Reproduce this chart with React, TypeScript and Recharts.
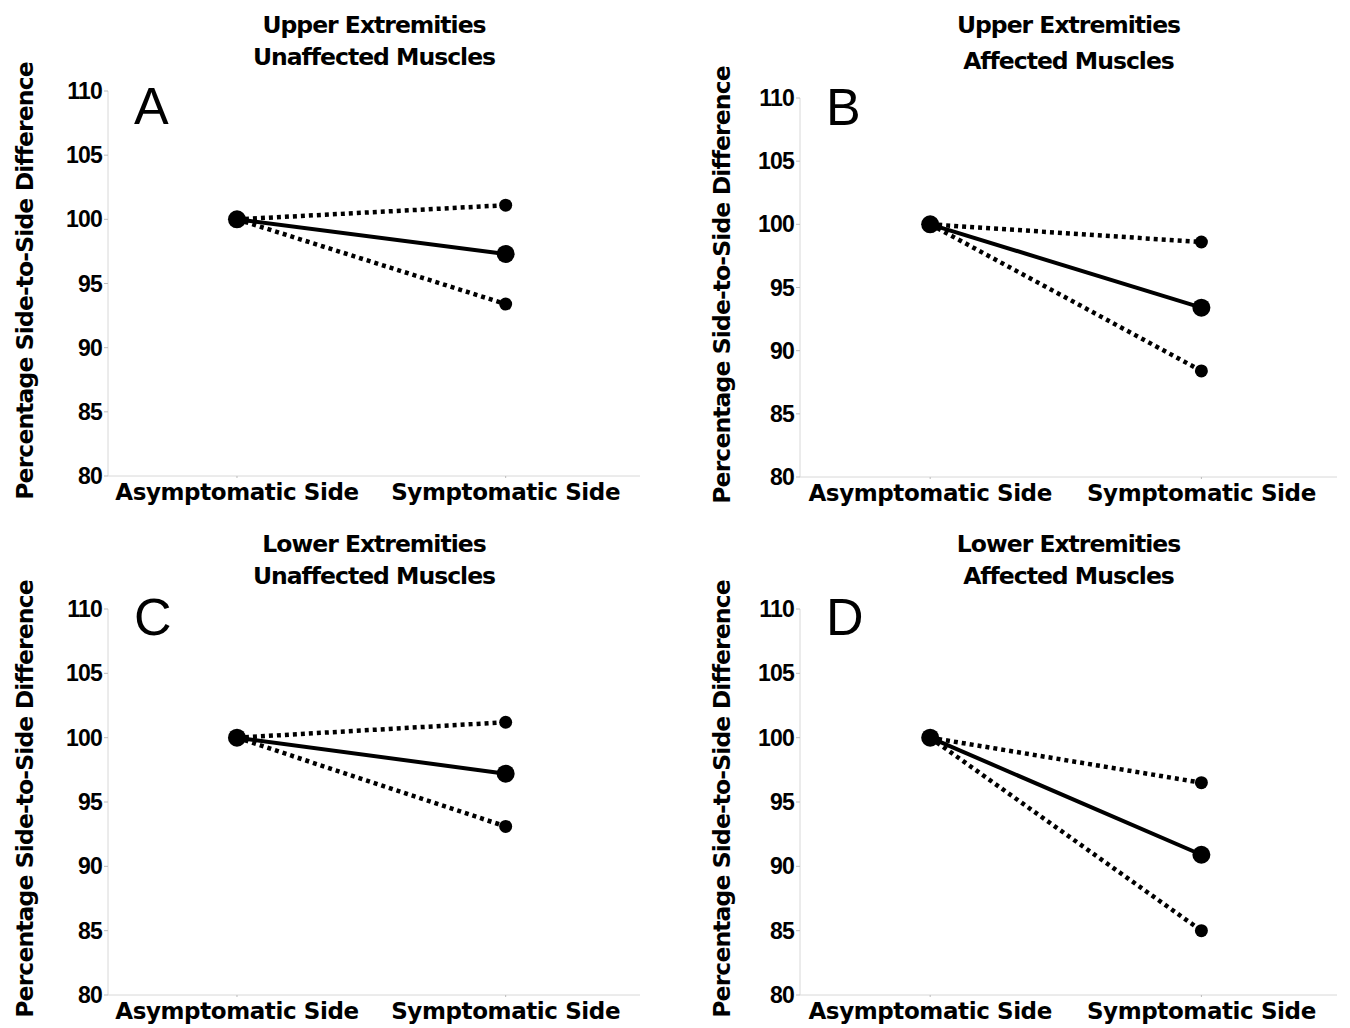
import React from "react";
import { LineChart, Line, XAxis, YAxis } from "recharts";

const sides = ["Asymptomatic Side", "Symptomatic Side"];
const sidePos = [1, 2];
const yTicks = [80, 85, 90, 95, 100, 105, 110];

const upperA = [100, 101.1];
const meanA = [100, 97.3];
const lowerA = [100, 93.4];

const upperB = [100, 98.6];
const meanB = [100, 93.4];
const lowerB = [100, 88.4];

const upperC = [100, 101.2];
const meanC = [100, 97.2];
const lowerC = [100, 93.1];

const upperD = [100, 96.5];
const meanD = [100, 90.9];
const lowerD = [100, 85.0];

const font = "'Liberation Sans', Arial, sans-serif";
const heavy = "'DejaVu Sans', 'Liberation Sans', sans-serif";

type PanelProps = {
  left: number;
  top: number;
  letter: string;
  letterY: number;
  title: string[];
  titleTop: number;
  titleGap: number;
  upper: number[];
  mean: number[];
  lower: number[];
  plotTop: number;
  plotBottom: number;
  plotRight: number;
  axisX: number;
};

const dotFn = (r: number) => (p: any) => (
  <circle key={`d-${p.index}-${r}`} cx={p.cx} cy={p.cy} r={r} fill="#000" />
);

function Panel(props: PanelProps) {
  const { left, top, letter, letterY, title, titleTop, titleGap, upper, mean, lower, plotTop, plotBottom, plotRight, axisX } = props;
  const W = 680;
  const H = 530;
  const rows = sidePos.map((x, i) => ({ x, upper: upper[i], mean: mean[i], lower: lower[i] }));
  const yW = 60;
  const xH = 34;
  return (
    <div style={{ position: "absolute", left, top, width: W, height: H }}>
      <LineChart
        width={W}
        height={H}
        data={rows}
        margin={{ top: plotTop, right: W - plotRight, bottom: H - plotBottom - xH, left: axisX - yW }}
      >
        <XAxis
          dataKey="x"
          type="number"
          domain={[0.52, 2.5]}
          allowDataOverflow
          ticks={sidePos}
          height={xH}
          tickFormatter={(v: number) => sides[v - 1]}
          axisLine={{ stroke: "#d8d8d8" }}
          tickLine={{ stroke: "#bbb" }}
          tickSize={2}
          dy={4}
          tick={{ fill: "#000", fontSize: 23, fontWeight: 700, fontFamily: heavy, letterSpacing: -0.4 }}
        />
        <YAxis
          type="number"
          domain={[80, 110]}
          ticks={yTicks}
          width={yW}
          axisLine={{ stroke: "#d8d8d8" }}
          tickLine={{ stroke: "#bbb" }}
          tickSize={4}
          tick={{ fill: "#000", fontSize: 23, fontWeight: 700, fontFamily: font, letterSpacing: -0.8 }}
        />
        <Line dataKey="upper" stroke="#000" strokeWidth={4.5} strokeDasharray="4 4" dot={dotFn(6.5)} isAnimationActive={false} />
        <Line dataKey="lower" stroke="#000" strokeWidth={4.5} strokeDasharray="4 4" dot={dotFn(6.5)} isAnimationActive={false} />
        <Line dataKey="mean" stroke="#000" strokeWidth={4} dot={dotFn(9)} isAnimationActive={false} />
      </LineChart>
      {title.map((t, i) => (
        <div
          key={t}
          style={{
            position: "absolute",
            left: (axisX + plotRight) / 2 - 250,
            width: 500,
            top: titleTop + i * titleGap,
            textAlign: "center",
            fontFamily: heavy,
            fontWeight: 700,
            fontSize: 23.5,
            letterSpacing: -1,
            lineHeight: "28px",
          }}
        >
          {t}
        </div>
      ))}
      <div
        style={{
          position: "absolute",
          left: axisX + 26,
          top: letterY - 11,
          fontFamily: font,
          fontSize: 52,
          lineHeight: "60px",
        }}
      >
        {letter}
      </div>
      <div
        style={{
          position: "absolute",
          left: 25 - 250,
          top: (plotTop + plotBottom) / 2 - 17,
          width: 500,
          height: 28,
          lineHeight: "28px",
          textAlign: "center",
          transform: "rotate(-90deg)",
          fontFamily: heavy,
          fontWeight: 700,
          fontSize: 23.5,
          letterSpacing: -0.9,
        }}
      >
        Percentage Side-to-Side Difference
      </div>
    </div>
  );
}

export default function App() {
  return (
    <div style={{ position: "absolute", left: 0, top: 0, width: 1350, height: 1028, background: "#fff", overflow: "hidden" }}>
      <Panel left={0} top={0} letter="A" letterY={87} title={["Upper Extremities", "Unaffected Muscles"]} titleTop={11} titleGap={32}
        upper={upperA} mean={meanA} lower={lowerA} plotTop={91} plotBottom={476} plotRight={640} axisX={108} />
      <Panel left={697} top={0} letter="B" letterY={88} title={["Upper Extremities", "Affected Muscles"]} titleTop={11} titleGap={36}
        upper={upperB} mean={meanB} lower={lowerB} plotTop={98} plotBottom={477} plotRight={640} axisX={103} />
      <Panel left={0} top={518} letter="C" letterY={80} title={["Lower Extremities", "Unaffected Muscles"]} titleTop={12} titleGap={32}
        upper={upperC} mean={meanC} lower={lowerC} plotTop={91} plotBottom={477} plotRight={640} axisX={108} />
      <Panel left={697} top={518} letter="D" letterY={80} title={["Lower Extremities", "Affected Muscles"]} titleTop={12} titleGap={32}
        upper={upperD} mean={meanD} lower={lowerD} plotTop={91} plotBottom={477} plotRight={640} axisX={103} />
    </div>
  );
}
